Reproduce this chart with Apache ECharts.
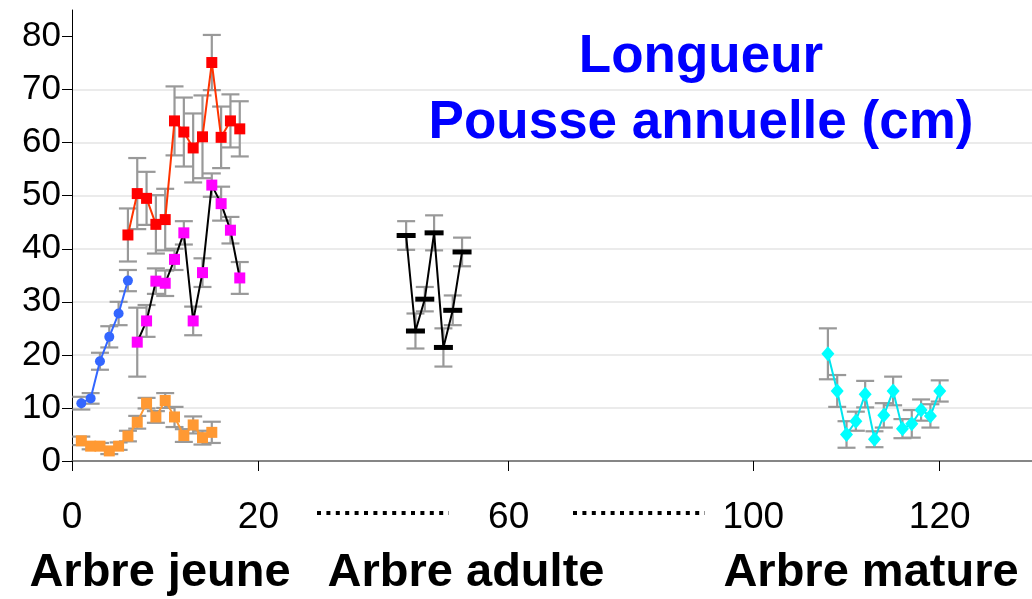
<!DOCTYPE html>
<html><head><meta charset="utf-8">
<script src="https://cdn.jsdelivr.net/npm/echarts@6/dist/echarts.min.js"></script>
<style>html,body{margin:0;padding:0;background:#fff}#c{width:1032px;height:599px}</style>
</head><body><div id="c"></div>
<script>
// ---- data (years / annual growth length in cm, with error) ----
const blueYears = [1, 2, 3, 4, 5, 6];
const blueVals  = [10.9, 11.8, 18.8, 23.4, 27.8, 34.0];
const blueErr   = [1.2, 1.0, 1.6, 2.0, 2.2, 2.0];

const orangeYears = [1, 2, 3, 4, 5, 6, 7, 8, 9, 10, 11, 12, 13, 14, 15];
const orangeVals  = [3.8, 2.8, 2.8, 1.9, 2.8, 4.7, 7.3, 10.9, 8.3, 11.4, 8.3, 4.8, 6.8, 4.4, 5.4];
const orangeErr   = [0.8, 0.6, 0.6, 0.6, 0.7, 1.0, 1.2, 1.0, 1.1, 1.4, 1.9, 1.2, 1.6, 1.3, 2.0];

const redYears = [6, 7, 8, 9, 10, 11, 12, 13, 14, 15, 16, 17, 18];
const redVals  = [42.6, 50.4, 49.5, 44.6, 45.5, 64.1, 62.0, 59.0, 61.1, 75.1, 61.0, 64.1, 62.6];
const redErr   = [5.0, 6.7, 5.0, 5.5, 5.8, 6.5, 6.5, 6.5, 7.8, 5.2, 5.8, 5.0, 5.2];

const magYears = [7, 8, 9, 10, 11, 12, 13, 14, 15, 16, 17, 18];
const magVals  = [22.4, 26.4, 33.9, 33.5, 38.0, 43.0, 26.4, 35.5, 52.0, 48.5, 43.5, 34.5];
const magErr   = [6.5, 3.0, 2.4, 2.4, 2.0, 2.2, 2.7, 2.7, 2.2, 3.2, 2.5, 3.0];

const adultYears = [49, 50, 51, 52, 53, 54, 55];
const adultVals  = [42.5, 24.5, 30.5, 43.0, 21.4, 28.4, 39.4];
const adultErr   = [2.7, 3.3, 2.3, 3.3, 3.6, 2.8, 2.7];

const matureYears = [108, 109, 110, 111, 112, 113, 114, 115, 116, 117, 118, 119, 120];
const matureVals  = [20.2, 13.2, 5.0, 7.5, 12.6, 4.1, 8.6, 13.2, 6.1, 7.0, 9.6, 8.5, 13.2];
const matureErr   = [4.8, 3.0, 2.5, 1.8, 2.5, 1.5, 2.3, 2.7, 1.8, 2.6, 2.0, 2.2, 2.0];

const xTickLabels = [0, 20, 60, 100, 120];
const yTickLabels = [0, 10, 20, 30, 40, 50, 60, 70, 80];
const groupLabels = ['Arbre jeune', 'Arbre adulte', 'Arbre mature'];
const titleLines  = ['Longueur', 'Pousse annuelle (cm)'];

// broken axis: years mapped onto a compressed axis (two breaks)
function axisPos(year) {
  if (year <= 30) return year;
  if (year <= 80) return year - 13.15;
  return year - 26.9;
}
const xTickPos = xTickLabels.map(axisPos);

function pts(years, vals) { return years.map((y, i) => [axisPos(y), vals[i]]); }
function errPts(years, vals, errs) { return years.map((y, i) => [axisPos(y), vals[i] - errs[i], vals[i] + errs[i]]); }

function errSeries(years, vals, errs) {
  return {
    type: 'custom', z: 1, silent: true, animation: false,
    encode: { x: 0, y: [1, 2] },
    data: errPts(years, vals, errs),
    renderItem: function (params, api) {
      const x = api.value(0), lo = api.value(1), hi = api.value(2);
      const a = api.coord([x, lo]), b = api.coord([x, hi]);
      const w = 9;
      const st = { stroke: '#999999', lineWidth: 2.2 };
      return { type: 'group', children: [
        { type: 'line', shape: { x1: a[0], y1: a[1], x2: b[0], y2: b[1] }, style: st },
        { type: 'line', shape: { x1: a[0] - w, y1: a[1], x2: a[0] + w, y2: a[1] }, style: st },
        { type: 'line', shape: { x1: b[0] - w, y1: b[1], x2: b[0] + w, y2: b[1] }, style: st }
      ]};
    }
  };
}

function lineSeries(years, vals, lineColor, markColor, symbol, size) {
  return {
    type: 'line', z: 3, animation: false,
    data: pts(years, vals),
    symbol: symbol, symbolSize: size, showSymbol: true,
    lineStyle: { color: lineColor, width: 2 },
    itemStyle: { color: markColor, opacity: 1 }
  };
}

const chart = echarts.init(document.getElementById('c'), null, { renderer: 'canvas' });

chart.setOption({
  animation: false,
  backgroundColor: '#ffffff',
  grid: { left: 72, right: 0, top: 10, bottom: 138 },
  xAxis: {
    type: 'value', min: 0, max: 103,
    axisLine: { show: true, onZero: false, lineStyle: { color: '#666666', width: 1.5 } },
    axisTick: { show: true, length: 10, customValues: xTickPos, lineStyle: { color: '#000000', width: 1 } },
    axisLabel: {
      customValues: xTickPos, margin: 38, color: '#000000',
      fontSize: 37, fontFamily: 'Liberation Sans',
      formatter: function (v) {
        let best = 0;
        for (let i = 1; i < xTickPos.length; i++) if (Math.abs(xTickPos[i] - v) < Math.abs(xTickPos[best] - v)) best = i;
        return String(xTickLabels[best]);
      }
    },
    splitLine: { show: false }
  },
  yAxis: {
    type: 'value', min: 0, max: 85, interval: 10,
    axisLine: { show: true, lineStyle: { color: '#000000', width: 1 } },
    axisTick: { show: true, length: 10, customValues: yTickLabels, lineStyle: { color: '#000000', width: 1 } },
    axisLabel: { customValues: yTickLabels, margin: 11, color: '#000000', fontSize: 35, fontFamily: 'Liberation Sans' },
    splitLine: { show: true, showMaxLine: false, lineStyle: { color: '#e4e4e4', width: 1.5 } }
  },
  series: [
    errSeries(orangeYears, orangeVals, orangeErr),
    errSeries(blueYears, blueVals, blueErr),
    errSeries(redYears, redVals, redErr),
    errSeries(magYears, magVals, magErr),
    errSeries(adultYears, adultVals, adultErr),
    errSeries(matureYears, matureVals, matureErr),
    lineSeries(orangeYears, orangeVals, '#ff9933', '#ff9933', 'rect', 11),
    lineSeries(blueYears, blueVals, '#3366ff', '#3366ff', 'circle', 10),
    lineSeries(redYears, redVals, '#ff3300', '#ff0000', 'rect', 11),
    lineSeries(magYears, magVals, '#000000', '#ff00ff', 'rect', 11),
    lineSeries(adultYears, adultVals, '#000000', '#000000', 'rect', [19, 5]),
    lineSeries(matureYears, matureVals, '#00e5ee', '#00ffff', 'diamond', [13, 15])
  ],
  graphic: [
    { type: 'text', x: 701, y: 57, z: 10, style: { text: titleLines[0], fill: '#0000ff', font: 'bold 53px "Liberation Sans"', align: 'center', verticalAlign: 'middle', textAlign: 'center', textVerticalAlign: 'middle' } },
    { type: 'text', x: 701, y: 123, z: 10, style: { text: titleLines[1], fill: '#0000ff', font: 'bold 53px "Liberation Sans"', align: 'center', verticalAlign: 'middle', textAlign: 'center', textVerticalAlign: 'middle' } },
    { type: 'text', x: 160, y: 573, z: 10, style: { text: groupLabels[0], fill: '#000000', font: 'bold 47px "Liberation Sans"', align: 'center', verticalAlign: 'middle', textAlign: 'center', textVerticalAlign: 'middle' } },
    { type: 'text', x: 466, y: 573, z: 10, style: { text: groupLabels[1], fill: '#000000', font: 'bold 47px "Liberation Sans"', align: 'center', verticalAlign: 'middle', textAlign: 'center', textVerticalAlign: 'middle' } },
    { type: 'text', x: 871, y: 573, z: 10, style: { text: groupLabels[2], fill: '#000000', font: 'bold 47px "Liberation Sans"', align: 'center', verticalAlign: 'middle', textAlign: 'center', textVerticalAlign: 'middle' } },
    { type: 'line', z: 10, shape: { x1: 317, y1: 513, x2: 449, y2: 513 }, style: { stroke: '#000000', lineWidth: 4, lineDash: [4, 5.4] } },
    { type: 'line', z: 10, shape: { x1: 573, y1: 513, x2: 705, y2: 513 }, style: { stroke: '#000000', lineWidth: 4, lineDash: [4, 5.4] } }
  ]
});
</script>
</body></html>
